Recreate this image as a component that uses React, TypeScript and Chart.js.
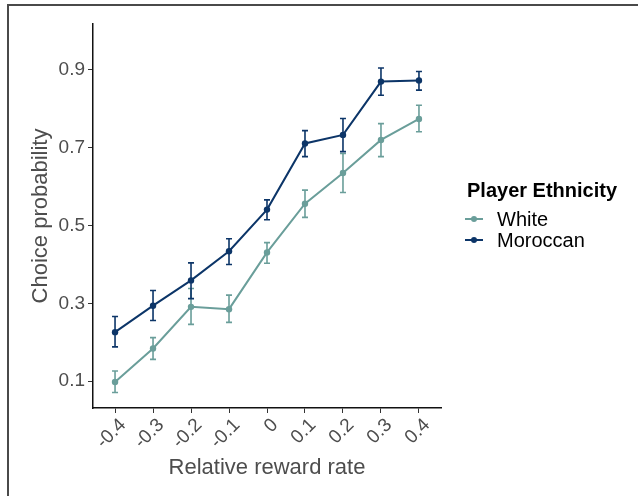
import React, { useEffect, useRef } from "react";
import { Chart, registerables } from "chart.js";

Chart.register(...registerables);

const xValues = [-0.4, -0.3, -0.2, -0.1, 0, 0.1, 0.2, 0.3, 0.4];
const xTickLabels = ["-0.4", "-0.3", "-0.2", "-0.1", "0", "0.1", "0.2", "0.3", "0.4"];
const yTicks = [0.1, 0.3, 0.5, 0.7, 0.9];
const yTickLabels = ["0.1", "0.3", "0.5", "0.7", "0.9"];

const whiteMean = [0.098, 0.184, 0.291, 0.285, 0.431, 0.556, 0.635, 0.72, 0.774];
const whiteLow = [0.071, 0.156, 0.246, 0.251, 0.403, 0.521, 0.585, 0.677, 0.741];
const whiteHigh = [0.126, 0.212, 0.338, 0.321, 0.456, 0.591, 0.685, 0.762, 0.809];

const moroccanMean = [0.226, 0.294, 0.359, 0.434, 0.541, 0.711, 0.733, 0.87, 0.873];
const moroccanLow = [0.188, 0.256, 0.312, 0.4, 0.515, 0.677, 0.69, 0.835, 0.848];
const moroccanHigh = [0.266, 0.333, 0.404, 0.466, 0.566, 0.744, 0.775, 0.905, 0.896];

const seriesNames = ["White", "Moroccan"];
const WHITE_COLOR = "#6a9e9a";
const MOROCCAN_COLOR = "#0c3568";
const FONT = "'Liberation Sans', Arial, Helvetica, sans-serif";

const errorBarPlugin = {
  id: "errorBars",
  beforeDatasetsDraw(chart: any) {
    const ctx = chart.ctx;
    const xs = chart.scales.x;
    const ys = chart.scales.y;
    chart.data.datasets.forEach((ds: any) => {
      const lows: number[] = ds.errLow;
      const highs: number[] = ds.errHigh;
      ctx.save();
      ctx.strokeStyle = ds.borderColor;
      ctx.lineWidth = 1.6;
      xValues.forEach((xv, i) => {
        const px = xs.getPixelForValue(xv);
        const pLow = ys.getPixelForValue(lows[i]);
        const pHigh = ys.getPixelForValue(highs[i]);
        ctx.beginPath();
        ctx.moveTo(px, pLow);
        ctx.lineTo(px, pHigh);
        ctx.moveTo(px - 3, pLow);
        ctx.lineTo(px + 3, pLow);
        ctx.moveTo(px - 3, pHigh);
        ctx.lineTo(px + 3, pHigh);
        ctx.stroke();
      });
      ctx.restore();
    });
  },
};

export default function App() {
  const canvasRef = useRef<HTMLCanvasElement | null>(null);

  useEffect(() => {
    if (!canvasRef.current) return;
    const toPoints = (ys: number[]) => xValues.map((x, i) => ({ x, y: ys[i] }));
    const chart = new Chart(canvasRef.current, {
      type: "line",
      data: {
        datasets: [
          {
            label: seriesNames[0],
            data: toPoints(whiteMean),
            borderColor: WHITE_COLOR,
            backgroundColor: WHITE_COLOR,
            borderWidth: 2,
            pointRadius: 3.2,
            pointBorderWidth: 0,
            tension: 0,
            errLow: whiteLow,
            errHigh: whiteHigh,
          } as any,
          {
            label: seriesNames[1],
            data: toPoints(moroccanMean),
            borderColor: MOROCCAN_COLOR,
            backgroundColor: MOROCCAN_COLOR,
            borderWidth: 2,
            pointRadius: 3.2,
            pointBorderWidth: 0,
            tension: 0,
            errLow: moroccanLow,
            errHigh: moroccanHigh,
          } as any,
        ],
      },
      options: {
        responsive: false,
        animation: false,
        layout: { padding: { left: 24, top: 24, right: 197, bottom: 11 } },
        plugins: {
          legend: { display: false },
          tooltip: { enabled: false },
        },
        scales: {
          x: {
            type: "linear",
            min: -0.458,
            max: 0.458,
            afterBuildTicks: (scale: any) => {
              scale.ticks = xValues.map((v) => ({ value: v }));
            },
            afterFit: (scale: any) => {
              scale.height = 77;
            },
            ticks: {
              minRotation: 45,
              maxRotation: 45,
              padding: 1,
              labelOffset: 8,
              color: "#4d4d4d",
              font: { family: FONT, size: 19 },
              callback: (value: any) => {
                const i = xValues.findIndex((v) => Math.abs(v - value) < 1e-9);
                return i >= 0 ? xTickLabels[i] : "";
              },
            },
            grid: {
              drawOnChartArea: false,
              drawTicks: true,
              tickLength: 5,
              color: "#333333",
              lineWidth: 1,
            },
            border: { display: true, color: "#111111", width: 1.5 },
            title: {
              display: true,
              text: "Relative reward rate",
              color: "#4d4d4d",
              font: { family: FONT, size: 22 },
              padding: { top: 4, bottom: 4 },
            },
          },
          y: {
            type: "linear",
            min: 0.031,
            max: 1.018,
            afterBuildTicks: (scale: any) => {
              scale.ticks = yTicks.map((v) => ({ value: v }));
            },
            afterFit: (scale: any) => {
              scale.width = 69;
            },
            ticks: {
              padding: 3,
              color: "#4d4d4d",
              font: { family: FONT, size: 19 },
              callback: (value: any) => {
                const i = yTicks.findIndex((v) => Math.abs(v - value) < 1e-9);
                return i >= 0 ? yTickLabels[i] : "";
              },
            },
            grid: {
              drawOnChartArea: false,
              drawTicks: true,
              tickLength: 5,
              color: "#333333",
              lineWidth: 1,
            },
            border: { display: true, color: "#111111", width: 1.5 },
            title: {
              display: true,
              text: "Choice probability",
              color: "#4d4d4d",
              font: { family: FONT, size: 22 },
              padding: { top: 4, bottom: 4 },
            },
          },
        },
      },
      plugins: [errorBarPlugin],
    });
    return () => chart.destroy();
  }, []);

  const legendRow = (label: string, color: string, top: number) => (
    <div key={label} style={{ position: "absolute", left: 465, top, height: 20 }}>
      <div
        style={{
          position: "absolute",
          left: 0,
          top: 9,
          width: 18,
          height: 2,
          background: color,
        }}
      />
      <div
        style={{
          position: "absolute",
          left: 6,
          top: 7,
          width: 6,
          height: 6,
          borderRadius: 3,
          background: color,
        }}
      />
      <div
        style={{
          position: "absolute",
          left: 32,
          top: 0,
          fontFamily: FONT,
          fontSize: 20,
          lineHeight: "20px",
          color: "#000",
          whiteSpace: "nowrap",
        }}
      >
        {label}
      </div>
    </div>
  );

  return (
    <div
      style={{
        position: "fixed",
        left: 0,
        top: 0,
        width: 638,
        height: 496,
        background: "#fff",
        overflow: "hidden",
      }}
    >
      <div
        style={{
          position: "absolute",
          left: 7,
          top: 4,
          width: 640,
          height: 500,
          borderTop: "2px solid #4a4a4a",
          borderLeft: "2px solid #4a4a4a",
          boxSizing: "border-box",
        }}
      />
      <canvas
        ref={canvasRef}
        width={638}
        height={496}
        style={{ position: "absolute", left: 0, top: 0, width: 638, height: 496 }}
      />
      <div
        style={{
          position: "absolute",
          left: 467,
          top: 180,
          fontFamily: FONT,
          fontSize: 20,
          lineHeight: "20px",
          fontWeight: "bold",
          color: "#000",
          whiteSpace: "nowrap",
        }}
      >
        Player Ethnicity
      </div>
      {legendRow(seriesNames[0], WHITE_COLOR, 209)}
      {legendRow(seriesNames[1], MOROCCAN_COLOR, 230)}
    </div>
  );
}
